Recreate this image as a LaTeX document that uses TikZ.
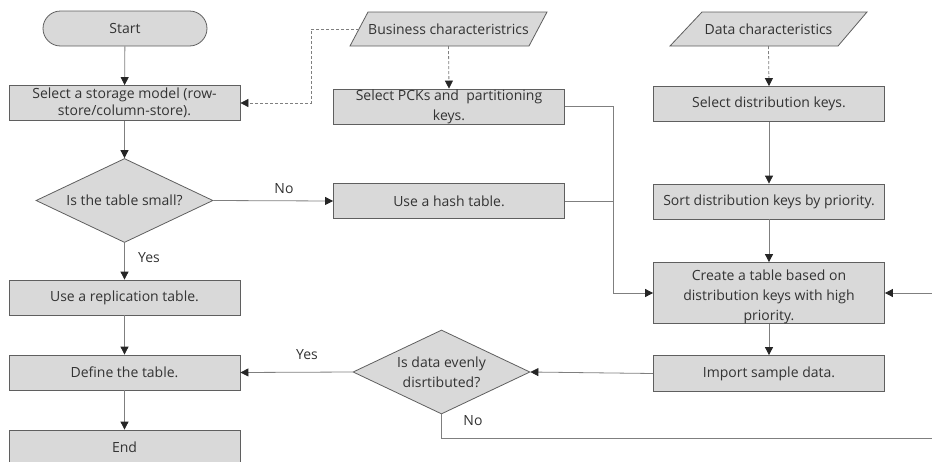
\documentclass[tikz,border=0pt]{standalone}
\usepackage{fontspec}
\setmainfont{Open Sans}
\usetikzlibrary{arrows.meta,shapes.geometric,calc}

\definecolor{boxfill}{HTML}{D9D9D9}
\definecolor{boxline}{HTML}{5F5F5F}
\definecolor{wire}{HTML}{7F7F7F}
\definecolor{tip}{HTML}{262626}
\definecolor{txt}{HTML}{333333}

\tikzset{
  base/.style={draw=boxline, fill=boxfill, line width=0.8pt, inner sep=0pt,
    align=center, text=txt, font=\fontsize{14}{20}\selectfont},
  box/.style={base, minimum width=231pt, minimum height=35pt},
  terminal/.style={base, minimum width=164pt, minimum height=35pt, rounded corners=17.5pt},
  decision/.style={base, diamond, minimum width=177pt, minimum height=84pt, aspect=2.1},
  iotext/.style={inner sep=0pt, text=txt, font=\fontsize{14}{20}\selectfont,
    minimum width=190pt, minimum height=34pt},
  ioshape/.style={draw=boxline, fill=boxfill, line width=0.8pt},
  flow/.style={draw=wire, line width=0.8pt, -{Triangle[length=8pt,width=8pt,color=tip]}},
  plain/.style={draw=wire, line width=0.8pt},
  hint/.style={draw=wire, line width=0.8pt, dash pattern=on 3pt off 2pt,
    -{Triangle[length=8pt,width=8pt,color=tip]}},
  lbl/.style={text=txt, font=\fontsize{14}{20}\selectfont, inner sep=0pt}
}

\begin{document}
\begin{tikzpicture}[x=1pt,y=-1pt]
\useasboundingbox (0,0) rectangle (932,461);
\clip (0,0) rectangle (932,461);

% input parallelograms
\filldraw[ioshape] (368,12) -- (547,12) -- (529,46) -- (350,46) -- cycle;
\filldraw[ioshape] (702,12) -- (867,12) -- (838,46) -- (670,46) -- cycle;
\node[iotext] (biz) at (448.5,29) {Business characteristrics};
\node[iotext, minimum width=170pt] (dchar) at (768.5,29) {Data characteristics};

% left column
\node[terminal] (start) at (125,28.5) {Start};
\node[box, font=\fontsize{14}{17}\selectfont] (storage) at (124.5,103) {Select a storage model (row-\\store/column-store).};
\node[decision] (small) at (124.5,200.5) {Is the table small?};
\node[box] (repl) at (124.5,297.5) {Use a replication table.};
\node[box] (define) at (124.5,372.5) {Define the table.};
\node[box] (end) at (124.5,447.5) {End};

% middle column
\node[box] (pcks) at (449,106.5) {Select PCKs and\ \ partitioning\\keys.};
\node[box] (hash) at (449,201) {Use a hash table.};
\node[decision] (even) at (441.5,372) {Is data evenly\\disrtibuted?};

% right column
\node[box] (dkeys) at (769,104) {Select distribution keys.};
\node[box] (sort) at (769,201.5) {Sort distribution keys by priority.};
\node[box, minimum height=61pt] (create) at (769,293) {};
\node[align=center, text=txt, font=\fontsize{14}{20}\selectfont, inner sep=0pt]
  (createtxt) at ([yshift=-4pt]create.center) {Create a table based on\\distribution keys with high\\priority.};
\node[box, minimum height=36pt] (import) at (769,373.5) {Import sample data.};

% helper points for routed connectors
\coordinate (bus) at (613,0);
\coordinate (loop) at (940,438);

% connectors
\draw[flow] (start) -- (storage);
\draw[flow] (storage) -- (small);
\draw[flow] (small.east) -- (hash.west);
\draw[flow] (small.south) -- (repl.north);
\draw[flow] (repl) -- (define);
\draw[flow] (define) -- (end);

\draw[hint] (biz.south) -- (pcks.north);
\draw[hint] (359,29) -- (311,29) |- (storage.east);
\draw[hint] (dchar.south) -- (dkeys.north);

\draw[flow] (pcks.east) -| (bus |- create.west) -- (create.west);
\draw[plain] (hash.east) -- (bus |- hash.east);

\draw[flow] (dkeys) -- (sort);
\draw[flow] (sort) -- (create);
\draw[flow] (create) -- (import);
\draw[flow] (import.west) -- (even.east);
\draw[flow] (even.west) -- (define.east);
\draw[flow] (even.south) |- (loop) |- (create.east);

% branch labels
\node[lbl] at (284,189) {No};
\node[lbl] at (149,258) {Yes};
\node[lbl] at (307,355) {Yes};
\node[lbl] at (473,421) {No};
\end{tikzpicture}
\end{document}
